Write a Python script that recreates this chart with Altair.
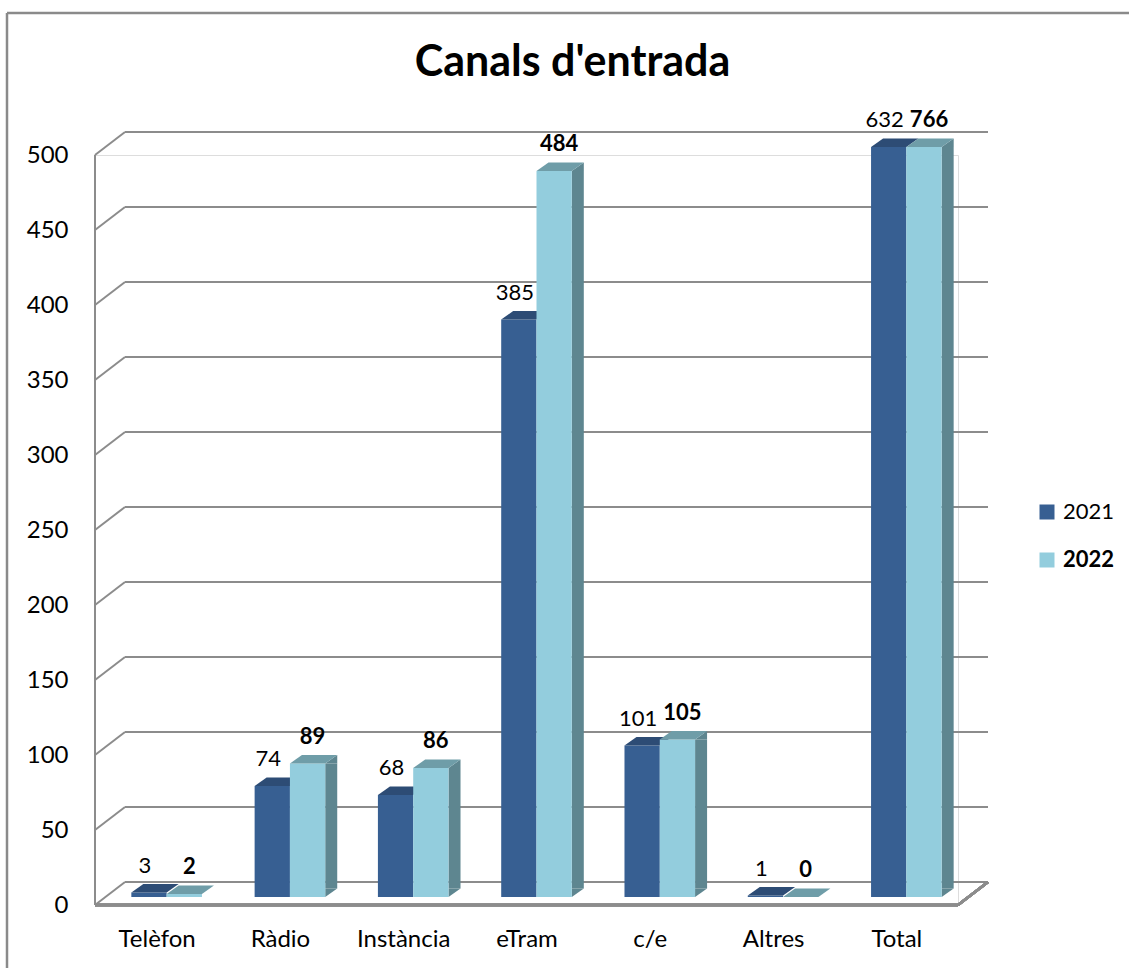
import altair as alt
import pandas as pd

# ---------------- data ----------------
title_text = "Canals d'entrada"
categories = ["Telèfon", "Ràdio", "Instància", "eTram", "c/e", "Altres", "Total"]
values_2021 = [3, 74, 68, 385, 101, 1, 632]
values_2022 = [2, 89, 86, 484, 105, 0, 766]
series = ["2021", "2022"]
y_ticks = [0, 50, 100, 150, 200, 250, 300, 350, 400, 450, 500]

rows = []
for c, a, b in zip(categories, values_2021, values_2022):
    rows.append({"cat": c, "series": "2021", "value": a})
    rows.append({"cat": c, "series": "2022", "value": b})
df = pd.DataFrame(rows)
ticks_df = pd.DataFrame({"v": y_ticks})
series_df = pd.DataFrame({"series": series})
title_df = pd.DataFrame({"t": [title_text]})

# ---------------- geometry / style ----------------
W, H = 863, 750
STEP = W / len(categories)
BAR = 35.3          # bar width
DX, DY = 12, 8.5    # bar depth
PX, PY = 10, 8      # bar plane offset from front plane
BX, BY = 30, 23     # wall depth
S = 20              # symbol unit (size = (2S)^2)
SIZE = (2 * S) ** 2

C21, C21_TOP = "#375F92", "#2D4C75"
C22, C22_TOP, C22_SIDE = "#93CDDD", "#6F9DA8", "#5E8690"
GRID = "#8C8C8C"
FONT = "Lato"

P = 1 - BAR / STEP


def xsc(shift):
    return alt.Scale(domain=categories, range=[shift, W + shift],
                     paddingInner=P, paddingOuter=P / 2)


ysc = alt.Scale(domain=[0, 500], clamp=True, nice=False, zero=True)


def fx(shift):
    return alt.X("cat:N", scale=xsc(shift), axis=None, sort=categories)


def fy():
    return alt.Y("value:Q", scale=ysc, axis=None)


b = BAR / 2 / S
dx = DX / S
dy = DY / S
top_path = f"M{-b},0L{b},0L{b+dx},{-dy}L{-b+dx},{-dy}Z"
side_top_path = f"M{b},0L{b+dx},{-dy}L{b+dx},0Z"
side_bot_path = f"M{b},{-dy}L{b},0L{b+dx},{-dy}Z"

s21 = alt.datum.series == "2021"
s22 = alt.datum.series == "2022"

# ---------------- walls / grid ----------------
grid_back = alt.Chart(ticks_df).mark_rule(color=GRID, strokeWidth=2, yOffset=-BY).encode(
    x=alt.value(BX), x2=alt.value(W + BX),
    y=alt.Y("v:Q", scale=ysc,
            axis=alt.Axis(values=y_ticks, domain=False, ticks=False, tickSize=0, grid=False,
                          labelPadding=27, labelFontSize=24, labelFont=FONT,
                          labelColor="#000000", title=None)),
)
grid_diag = alt.Chart(ticks_df).mark_rule(color=GRID, strokeWidth=2, y2Offset=-BY).encode(
    x=alt.value(0), x2=alt.value(BX),
    y=alt.Y("v:Q", scale=ysc, axis=None), y2="v:Q",
)
left_edge = alt.Chart(ticks_df).mark_rule(color=GRID, strokeWidth=2).encode(
    x=alt.value(0), y=alt.Y(datum=500, scale=ysc, axis=None), y2=alt.Y2(datum=0),
)
floor_front = alt.Chart(ticks_df).mark_rule(color=GRID, strokeWidth=2.5).encode(
    x=alt.value(0), x2=alt.value(W), y=alt.Y(datum=0, scale=ysc, axis=None),
)
floor_right = alt.Chart(ticks_df).mark_rule(color=GRID, strokeWidth=2.5, y2Offset=-BY).encode(
    x=alt.value(W), x2=alt.value(W + BX),
    y=alt.Y(datum=0, scale=ysc, axis=None), y2=alt.Y2(datum=0),
)
x_axis = alt.Chart(df).mark_point(opacity=0).encode(
    x=alt.X("cat:N", scale=xsc(0), sort=categories,
            axis=alt.Axis(domain=False, ticks=False, tickSize=0, grid=False, labelAngle=0,
                          labelPadding=22, labelFontSize=24, labelFont=FONT,
                          labelColor="#000000", title=None)),
    y=alt.Y(datum=0, scale=ysc, axis=None),
)

# ---------------- bars ----------------
sh21 = PX - BAR / 2
sh22 = PX + BAR / 2

bars21 = alt.Chart(df).transform_filter(s21).mark_bar(
    color=C21, yOffset=-PY, y2Offset=-PY).encode(x=fx(sh21), y=fy(), y2=alt.Y2(datum=0))
top21 = alt.Chart(df).transform_filter(s21).mark_point(
    shape=top_path, size=SIZE, filled=True, color=C21_TOP, opacity=1, strokeWidth=0,
    yOffset=-PY).encode(x=fx(sh21), y=fy())

big22 = "datum.series == '2022' && datum.value >= 10"
side_rule = alt.Chart(df).transform_filter(big22).mark_rule(
    color=C22_SIDE, strokeWidth=DX, strokeCap="butt", yOffset=-PY, y2Offset=-PY - DY).encode(
    x=fx(PX + BAR + DX / 2), y=fy(), y2=alt.Y2(datum=0))
side_top = alt.Chart(df).transform_filter(big22).mark_point(
    shape=side_top_path, size=SIZE, filled=True, color=C22_SIDE, opacity=1, strokeWidth=0,
    yOffset=-PY).encode(x=fx(sh22), y=fy())
side_bot = alt.Chart(df).transform_filter(big22).mark_point(
    shape=side_bot_path, size=SIZE, filled=True, color=C22_SIDE, opacity=1, strokeWidth=0,
    yOffset=-PY).encode(x=fx(sh22), y=alt.Y(datum=0, scale=ysc, axis=None))
bars22 = alt.Chart(df).transform_filter(s22).mark_bar(
    color=C22, yOffset=-PY, y2Offset=-PY).encode(x=fx(sh22), y=fy(), y2=alt.Y2(datum=0))
top22 = alt.Chart(df).transform_filter(s22).mark_point(
    shape=top_path, size=SIZE, filled=True, color=C22_TOP, opacity=1, strokeWidth=0,
    yOffset=-PY).encode(x=fx(sh22), y=fy())

# ---------------- value labels ----------------
lab21 = alt.Chart(df).transform_filter(s21).mark_text(
    font=FONT, fontSize=22, color="#000000", baseline="middle", dy=-35, dx=-4).encode(
    x=fx(sh21), y=fy(), text="value:Q")
lab22 = alt.Chart(df).transform_filter(s22).mark_text(
    font=FONT, fontSize=22, fontWeight="bold", color="#000000", baseline="middle",
    dy=-35, dx=5).encode(x=fx(sh22), y=fy(), text="value:Q")

# ---------------- legend ----------------
leg_y = alt.Y("series:N", scale=alt.Scale(domain=series, range=[357, 405], padding=0), axis=None)
leg_sq = alt.Chart(series_df).mark_square(size=225, filled=True, opacity=1).encode(
    x=alt.value(952), y=leg_y,
    color=alt.Color("series:N", scale=alt.Scale(domain=series, range=[C21, C22]), legend=None))
leg_t21 = alt.Chart(series_df).transform_filter(s21).mark_text(
    font=FONT, fontSize=22, align="left", baseline="middle", color="#000000").encode(
    x=alt.value(968), y=leg_y, text="series:N")
leg_t22 = alt.Chart(series_df).transform_filter(s22).mark_text(
    font=FONT, fontSize=22, fontWeight="bold", align="left", baseline="middle",
    color="#000000").encode(x=alt.value(968), y=leg_y, text="series:N")

# ---------------- title & outer frame ----------------
title_mark = alt.Chart(title_df).mark_text(
    font=FONT, fontSize=43, fontWeight="bold", color="#000000", align="center",
    baseline="alphabetic").encode(x=alt.value(477.5), y=alt.value(-79), text="t:N")
frame_l = alt.Chart(title_df).mark_rule(color="#8A8A8A", strokeWidth=2.5).encode(
    x=alt.value(-88), y=alt.value(-142), y2=alt.value(830))
frame_t = alt.Chart(title_df).mark_rule(color="#8A8A8A", strokeWidth=2.5).encode(
    x=alt.value(-88), x2=alt.value(1060), y=alt.value(-142))

chart = alt.layer(
    grid_back, grid_diag, left_edge, floor_front, floor_right, x_axis,
    bars21, top21, side_rule, side_top, side_bot, bars22, top22,
    lab21, lab22, leg_sq, leg_t21, leg_t22, title_mark, frame_l, frame_t,
).resolve_scale(
    x="independent", y="independent", color="independent"
).properties(
    width=W, height=H,
    autosize=alt.AutoSizeParams(type="none"),
    padding={"left": 95, "top": 155, "right": 171, "bottom": 63},
).configure_view(stroke=None).configure(background="#ffffff")

chart.save("out.html", embed_options={"renderer": "svg", "actions": False})
